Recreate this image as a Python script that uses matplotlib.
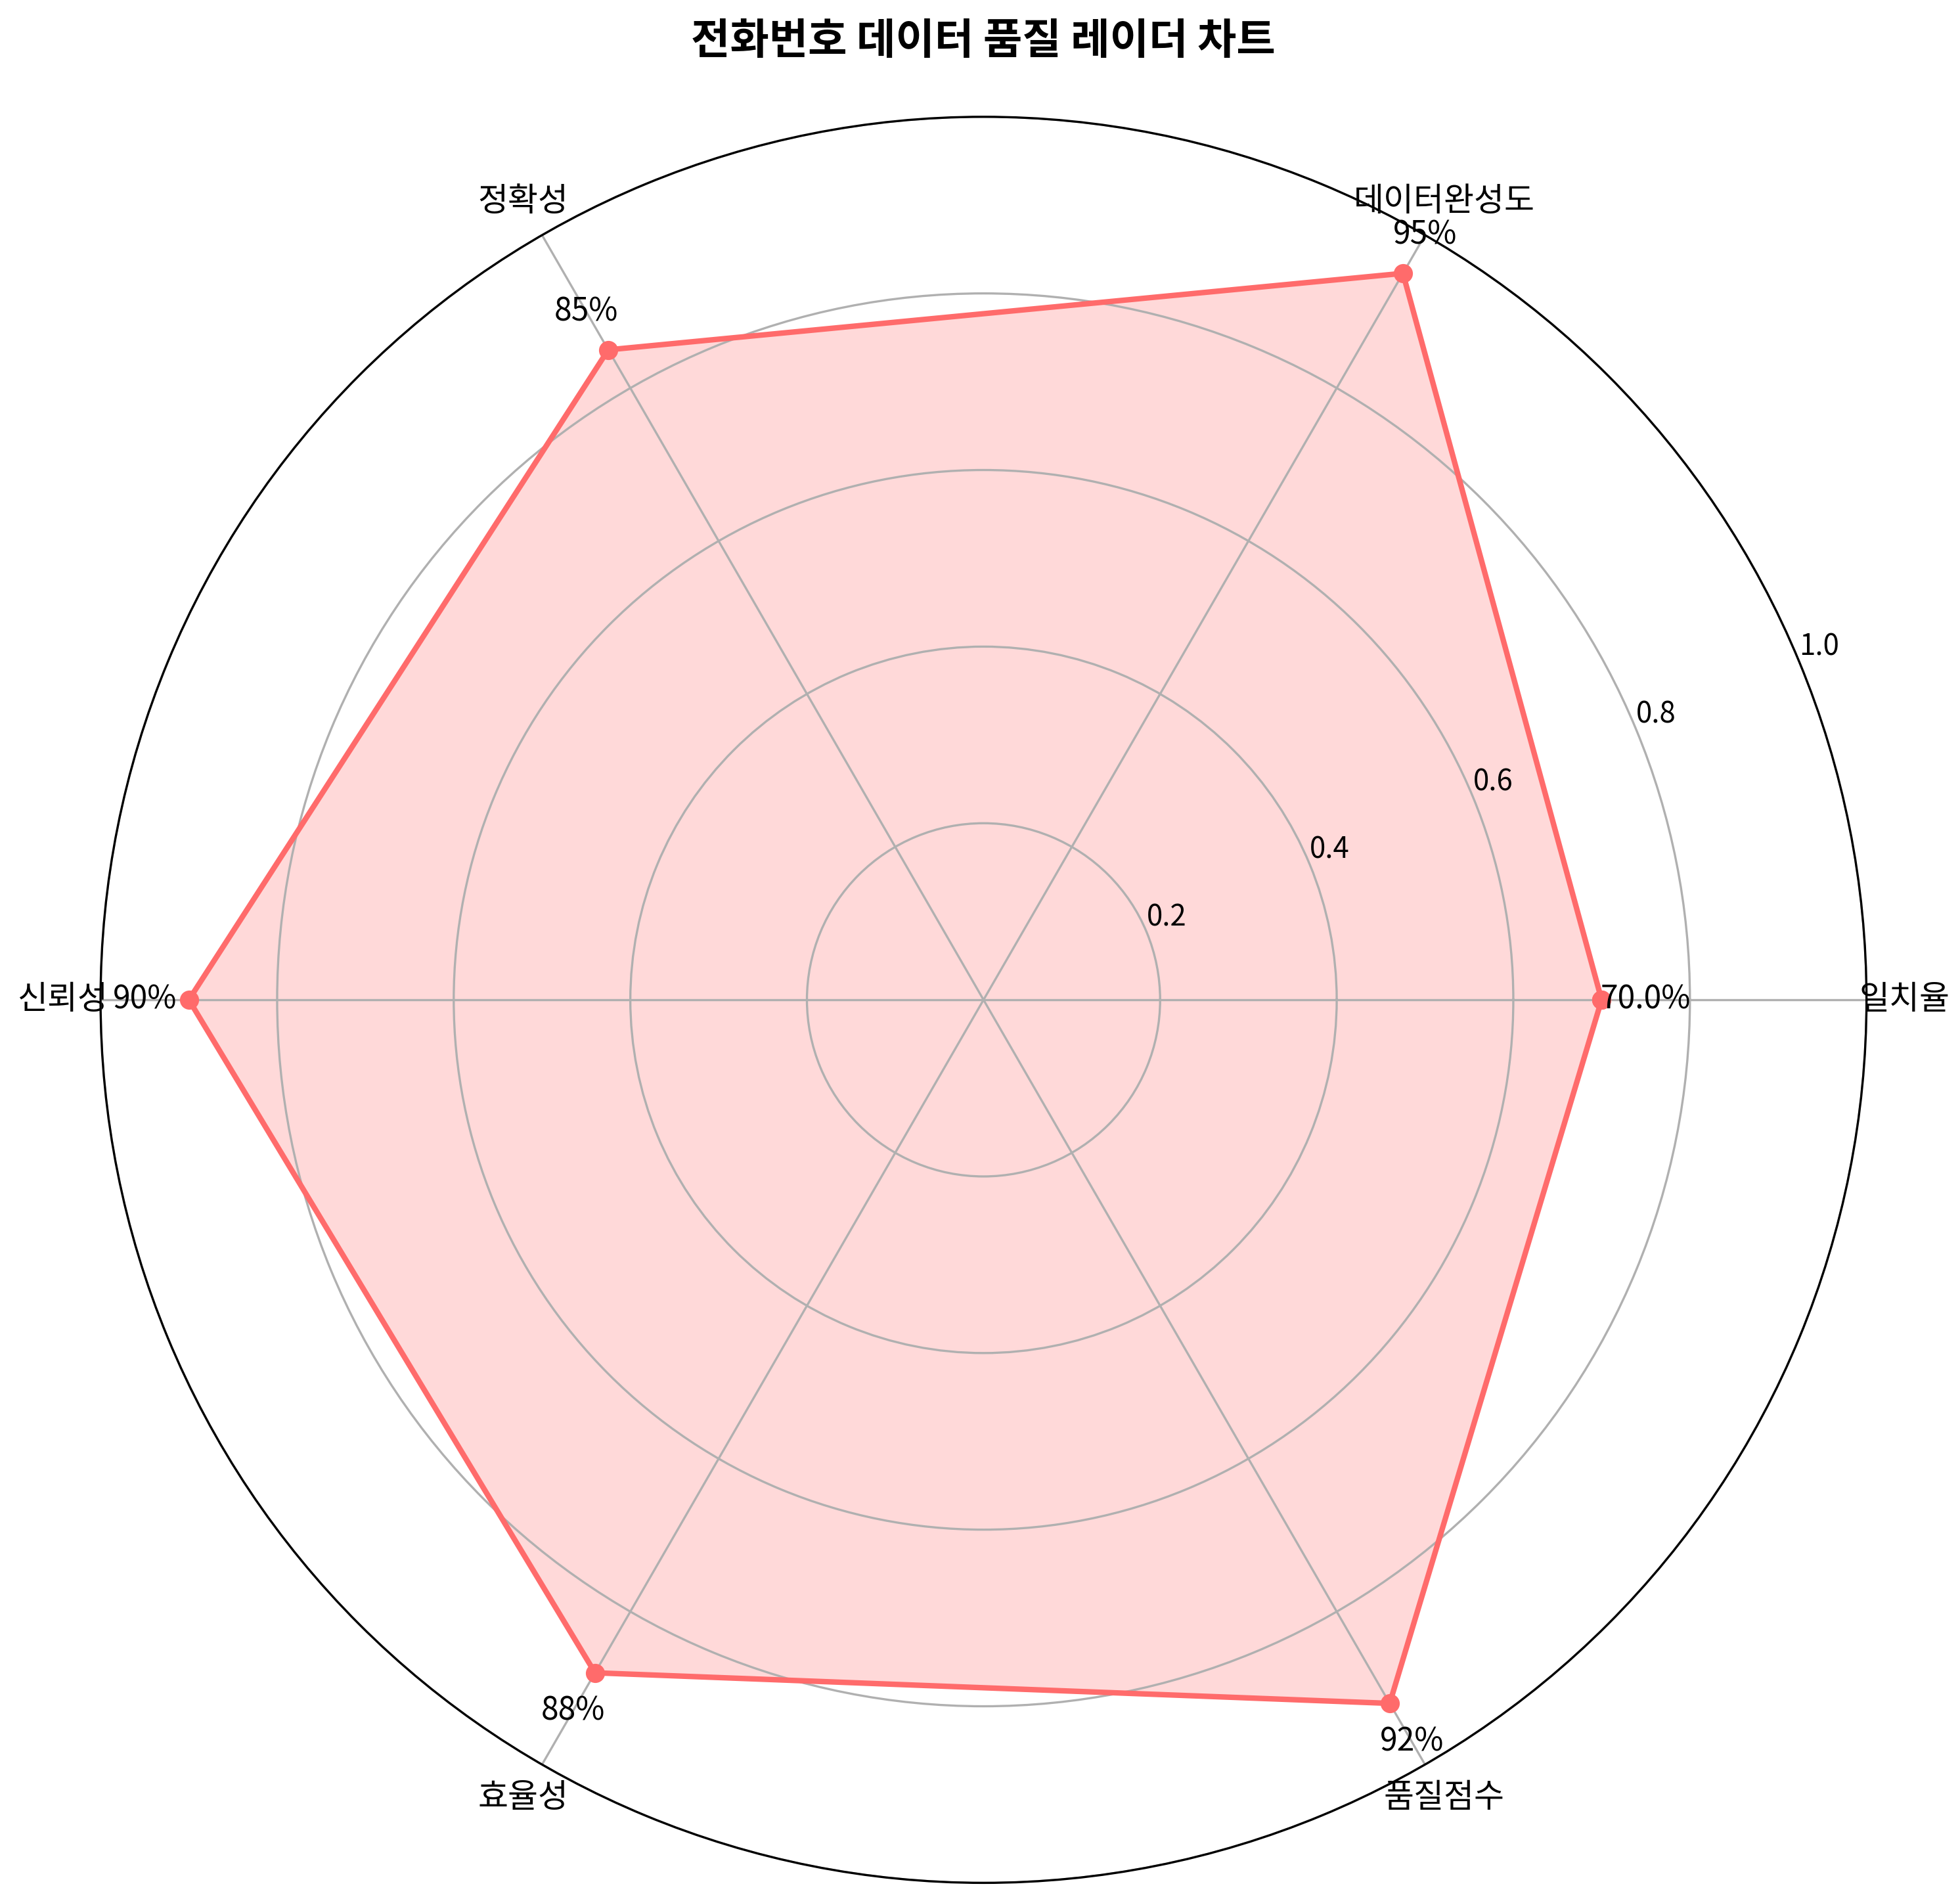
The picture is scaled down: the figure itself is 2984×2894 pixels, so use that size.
import numpy as np
import matplotlib
matplotlib.use('Agg')
import matplotlib.pyplot as plt

plt.rcParams['font.family'] = ['Noto Sans CJK KR', 'DejaVu Sans']

categories = ['일치율', '데이터완성도', '정확성', '신뢰성', '효율성', '품질점수']
values = [0.70, 0.95, 0.85, 0.90, 0.88, 0.92]
value_labels = ['70.0%', '95%', '85%', '90%', '88%', '92%']

angles = np.linspace(0, 2 * np.pi, len(categories), endpoint=False)
angles_closed = np.concatenate([angles, angles[:1]])
values_closed = values + values[:1]

fig = plt.figure(figsize=(2984 / 300, 2894 / 300), dpi=300)
ax = fig.add_axes([0.0513, 0.0093, 0.901, 0.9295], projection='polar')

ax.plot(angles_closed, values_closed, 'o-', color='#FF6B6B', linewidth=2)
ax.fill(angles_closed, values_closed, color='#FF6B6B', alpha=0.25)

ax.set_xticks(angles)
ax.set_xticklabels(categories, fontsize=12)
ax.set_ylim(0, 1)
ax.set_yticks([0.2, 0.4, 0.6, 0.8, 1.0])
ax.set_yticklabels(['0.2', '0.4', '0.6', '0.8', '1.0'], fontsize=10.5)
ax.grid(True, color='#b0b0b0')

# 값 라벨
for a, v, lab in zip(angles, values, value_labels):
    ax.text(a, v + 0.05, lab, ha='center', va='center', fontsize=11.5, fontweight='medium')

ax.set_title('전화번호 데이터 품질 레이더 차트', fontsize=15.5, fontweight='bold', pad=23)

fig.savefig('out.png', dpi=300)
